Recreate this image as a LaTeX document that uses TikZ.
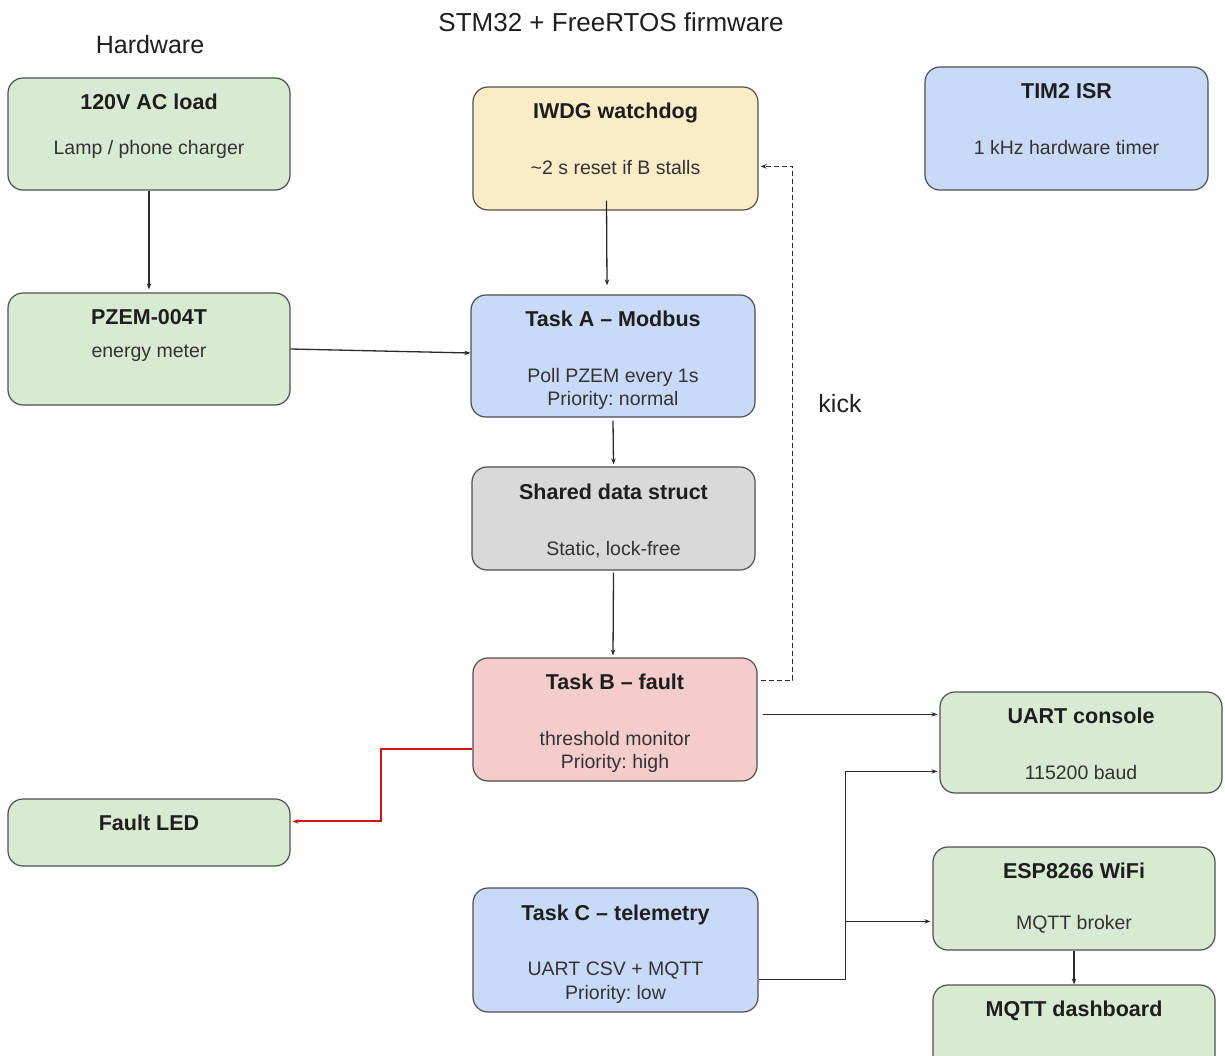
\documentclass[tikz,border=0pt]{standalone}
\usepackage{fontspec}
\setmainfont{Liberation Sans}
\frenchspacing
\usetikzlibrary{arrows.meta,calc}
\definecolor{gfill}{HTML}{D9EAD3}
\definecolor{bfill}{HTML}{C9DAF8}
\definecolor{yfill}{HTML}{FBECC8}
\definecolor{rfill}{HTML}{F4CCCC}
\definecolor{sfill}{HTML}{D9D9D9}
\definecolor{bordc}{HTML}{4F4F4F}
\definecolor{linec}{HTML}{2B2B2B}
\definecolor{faultred}{RGB}{214,20,20}
\definecolor{txtc}{HTML}{1E1E1E}
\definecolor{subc}{HTML}{333333}
\begin{document}
\begin{tikzpicture}[x=1pt,y=-1pt,
  box/.style={draw=bordc, line width=1.2pt, rounded corners=15pt, inner sep=0pt},
  ttl/.style={anchor=base, inner sep=0pt, text=txtc, font=\fontsize{21.5}{25}\selectfont\bfseries\frenchspacing},
  sub/.style={anchor=base, inner sep=0pt, text=subc, font=\fontsize{19.5}{23}\selectfont\frenchspacing},
  big/.style={anchor=base, inner sep=0pt, text=txtc, font=\fontsize{25}{30}\selectfont},
  arr/.style={color=linec, line width=1.3pt, -{Stealth[length=6pt,width=4.5pt]}},
  redarr/.style={faultred, line width=2pt, -{Stealth[length=6pt,width=4.5pt]}}]
\clip (0,0) rectangle (1225,1055);
\useasboundingbox (0,0) rectangle (1225,1055);
\fill[white] (0,0) rectangle (1225,1055);

% free labels
\node[big] (hw) at (150,53) {Hardware};
\node[big, font=\fontsize{26}{31}\selectfont] (fw) at (611,31) {STM32 + FreeRTOS firmware};
\node[big] (kick) at (840,412) {kick};

% boxes
\node[box, fill=gfill, minimum width=282pt, minimum height=112pt] (ac) at (149,134) {};
\node[ttl] (ac-t) at (149,109) {120V AC load};
\node[sub] (ac-s) at (149,154) {Lamp / phone charger};

\node[box, fill=gfill, minimum width=282pt, minimum height=112pt] (pz) at (149,349) {};
\node[ttl] (pz-t) at (149,324) {PZEM-004T};
\node[sub] (pz-s) at (149,357) {energy meter};

\node[box, fill=yfill, minimum width=285pt, minimum height=123pt] (iw) at (615.5,148.5) {};
\node[ttl] (iw-t) at (615.5,118) {IWDG watchdog};
\node[sub] (iw-s) at (615.5,174) {\textasciitilde 2 s reset if B stalls};

\node[box, fill=bfill, minimum width=283pt, minimum height=123pt] (tim) at (1066.5,128.5) {};
\node[ttl] (tim-t) at (1066.5,98) {TIM2 ISR};
\node[sub] (tim-s) at (1066.5,154) {1 kHz hardware timer};

\node[box, fill=bfill, minimum width=284pt, minimum height=122pt] (ta) at (613,356) {};
\node[ttl] (ta-t) at (613,326) {Task A – Modbus};
\node[sub] (ta-s1) at (613,382) {Poll PZEM every 1s};
\node[sub] (ta-s2) at (613,405) {Priority: normal};

\node[box, fill=sfill, minimum width=283pt, minimum height=103pt] (sd) at (613.5,518.5) {};
\node[ttl] (sd-t) at (613.5,499) {Shared data struct};
\node[sub] (sd-s) at (613.5,555) {Static, lock-free};

\node[box, fill=rfill, minimum width=284pt, minimum height=123pt] (tb) at (615,719.5) {};
\node[ttl] (tb-t) at (615,689) {Task B – fault};
\node[sub] (tb-s1) at (615,745) {threshold monitor};
\node[sub] (tb-s2) at (615,768) {Priority: high};

\node[box, fill=gfill, minimum width=282pt, minimum height=67pt] (fl) at (149,832.5) {};
\node[ttl] (fl-t) at (149,830) {Fault LED};

\node[box, fill=bfill, minimum width=285pt, minimum height=124pt] (tc) at (615.5,950) {};
\node[ttl] (tc-t) at (615.5,920) {Task C – telemetry};
\node[sub] (tc-s1) at (615.5,975) {UART CSV + MQTT};
\node[sub] (tc-s2) at (615.5,999) {Priority: low};

\node[box, fill=gfill, minimum width=282pt, minimum height=101pt] (uart) at (1081,742.5) {};
\node[ttl] (uart-t) at (1081,723) {UART console};
\node[sub] (uart-s) at (1081,779) {115200 baud};

\node[box, fill=gfill, minimum width=282pt, minimum height=103pt] (es) at (1074,898.5) {};
\node[ttl] (es-t) at (1074,878) {ESP8266 WiFi};
\node[sub] (es-s) at (1074,929) {MQTT broker};

\node[box, fill=gfill, minimum width=282pt, minimum height=90pt] (db) at (1074,1030) {};
\node[ttl] (db-t) at (1074,1016) {MQTT dashboard};

% connectors
\draw[arr] (ac.south) -- ($(pz.north)+(0,-3)$);
\draw[arr] (pz.east) -- ($(ta.west)+(0,-3)$);
\draw[arr] ($(iw.south)+(-9,-10)$) -- ($(ta.north)+(-6,-9)$);
\draw[arr] ($(ta.south)+(0,3)$) -- ($(sd.north)+(0,-2)$);
\draw[arr] ($(sd.south)+(0,2)$) -- ($(tb.north)+(-2,-2)$);
\draw[arr, dashed, dash pattern=on 5pt off 3pt] ($(tb.north east)+(3,23)$) -- ++(32,0) |- ($(iw.north east)+(2,80)$);
\draw[arr] ($(tb.north east)+(5,57)$) -- ($(uart.north west)+(-2,23)$);
\draw[arr] ($(tc.north east)+(0,92)$) -- ++(87,0) |- ($(uart.north west)+(-2,80)$);
\draw[arr] ($(tc.north east)+(87,92)$) |- ($(es.north west)+(-2,75)$);
\draw[arr] (es.south) -- (db.north);
\draw[redarr] ($(tb.north west)+(0,92)$) -- ++(-91,0) |- ($(fl.north east)+(2,23)$);
\end{tikzpicture}
\end{document}
